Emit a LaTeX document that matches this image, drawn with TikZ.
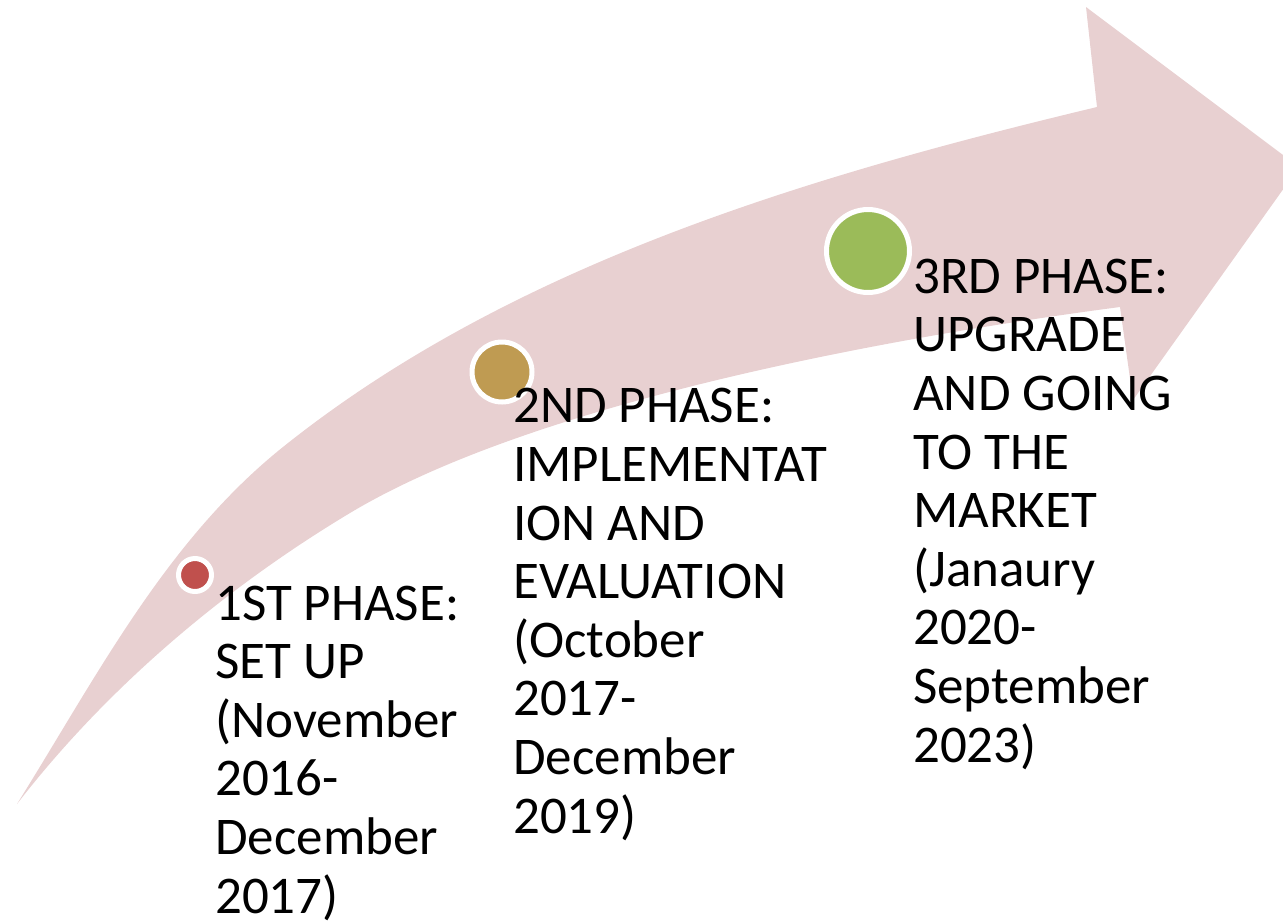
\documentclass[tikz,border=0pt]{standalone}
\usepackage{fontspec}
\setmainfont{Carlito}
\definecolor{arrowpink}{RGB}{232,208,209}
\definecolor{phasered}{RGB}{192,80,77}
\definecolor{phasegold}{RGB}{191,155,82}
\definecolor{phasegreen}{RGB}{155,187,89}
\begin{document}
\begin{tikzpicture}[x=1pt,y=-1pt,
  phasetext/.style={anchor=base west, align=left, inner sep=0pt,
    font=\fontsize{53}{58.6}\selectfont, text=black},
  dot/.style={circle, draw=white, line width=5pt, inner sep=0pt}]
\useasboundingbox (0,0) rectangle (1283,922);
\begin{scope}
\clip (0,0) rectangle (1283,922);
\fill[arrowpink] (17,804) .. controls (96.5,676.8) and (165.8,540.8) .. (283,447)
  .. controls (512.6,263.3) and (811.2,175.5) .. (1097,107)
  -- (1086,7) -- (1299,167) -- (1133,400) -- (1120,307)
  .. controls (902,335.6) and (538.5,400) .. (350,513)
  .. controls (224,588.6) and (106.7,687.9) .. (17,804) -- cycle;
\end{scope}
\node[dot, fill=phasered, minimum size=33pt] (c1) at (195,575) {};
\node[dot, fill=phasegold, minimum size=60pt] (c2) at (502,372) {};
\node[dot, fill=phasegreen, minimum size=83pt] (c3) at (868,251) {};
% base anchor of a multi-line node is the baseline of its last line
\node[phasetext] (t1) at (215,913) {1ST PHASE:\\SET UP\\(November\\2016-\\December\\2017)};
\node[phasetext] (t2) at (513,833) {2ND PHASE:\\IMPLEMENTAT\\ION AND\\EVALUATION\\(October\\2017-\\December\\2019)};
\node[phasetext] (t3) at (913,762) {3RD PHASE:\\UPGRADE\\AND GOING\\TO THE\\MARKET\\(Janaury\\2020-\\September\\2023)};
\end{tikzpicture}
\end{document}
